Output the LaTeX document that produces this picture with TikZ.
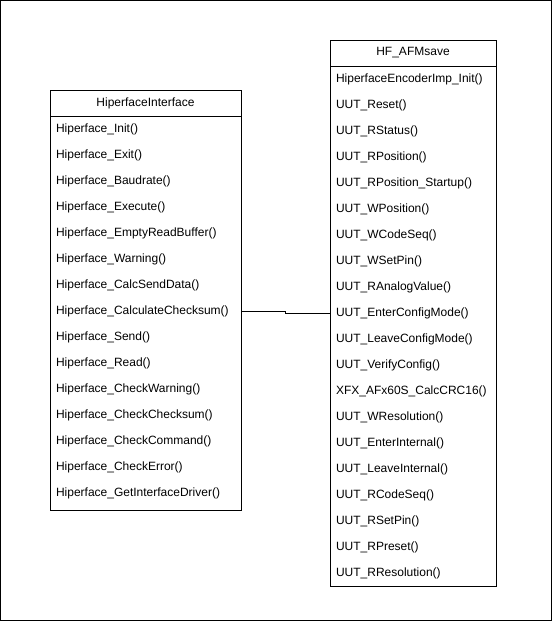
\documentclass[tikz,border=0pt]{standalone}
\usepackage{fontspec}
\setmainfont{Liberation Sans}
\begin{document}
\begin{tikzpicture}[x=1pt,y=-1pt,
  every node/.style={font=\fontsize{12}{14}\selectfont},
  frame/.style={draw=black,line width=0.8pt},
  classbox/.style={draw=black,line width=0.8pt},
  titlecell/.style={minimum height=26pt,inner sep=0pt,anchor=center},
  item/.style={minimum height=26pt,inner ysep=0pt,inner xsep=6pt,align=left,anchor=center},
  link/.style={draw=black,line width=0.8pt}]
\useasboundingbox (0,0) rectangle (552,621);
\draw[frame] (0.5,0.5) rectangle (551.5,620.5);
% left class
\draw[classbox] (50,90) rectangle (241,510);
\draw[classbox] (50,116) -- (241,116);
\node[titlecell] (LT) at (145.5,103) {HiperfaceInterface};
\foreach \t [count=\i from 0] in {Hiperface\_Init(),Hiperface\_Exit(),Hiperface\_Baudrate(),Hiperface\_Execute(),Hiperface\_EmptyReadBuffer(),Hiperface\_Warning(),Hiperface\_CalcSendData(),Hiperface\_CalculateChecksum(),Hiperface\_Send(),Hiperface\_Read(),Hiperface\_CheckWarning(),Hiperface\_CheckChecksum(),Hiperface\_CheckCommand(),Hiperface\_CheckError(),Hiperface\_GetInterfaceDriver()}
  \node[item,text width=179pt] (L\i) at (145.5,129+26*\i) {\t};
% right class
\draw[classbox] (330,40) rectangle (496,586);
\draw[classbox] (330,66) -- (496,66);
\node[titlecell] (RT) at (413,53) {HF\_AFMsave};
\foreach \t [count=\i from 0] in {HiperfaceEncoderImp\_Init(),UUT\_Reset(),UUT\_RStatus(),UUT\_RPosition(),UUT\_RPosition\_Startup(),UUT\_WPosition(),UUT\_WCodeSeq(),UUT\_WSetPin(),UUT\_RAnalogValue(),UUT\_EnterConfigMode(),UUT\_LeaveConfigMode(),UUT\_VerifyConfig(),XFX\_AFx60S\_CalcCRC16(),UUT\_WResolution(),UUT\_EnterInternal(),UUT\_LeaveInternal(),UUT\_RCodeSeq(),UUT\_RSetPin(),UUT\_RPreset(),UUT\_RResolution()}
  \node[item,text width=154pt] (R\i) at (413,79+26*\i) {\t};
% connector
\draw[link] (L7.east) -- ++(44,0) |- (R9.west);
\end{tikzpicture}
\end{document}
